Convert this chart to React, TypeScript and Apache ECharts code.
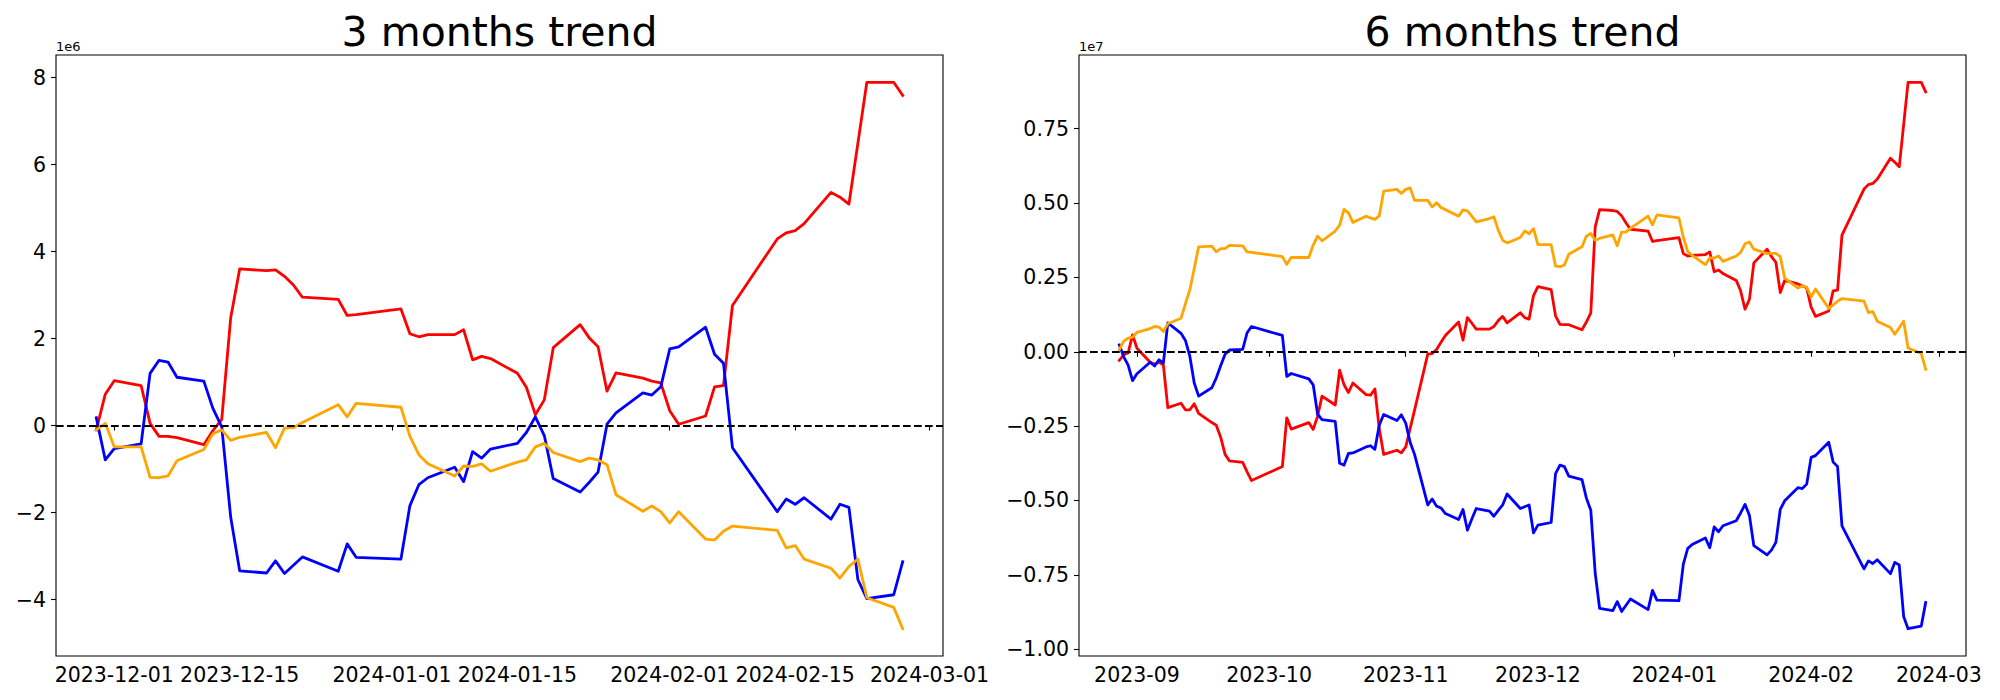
import React, { useEffect, useRef } from "react";
import * as echarts from "echarts";

// KRX trading days, 6-month window
const dates6m = [
  "2023-08-28", "2023-08-29", "2023-08-30", "2023-08-31", "2023-09-01",
  "2023-09-04", "2023-09-05", "2023-09-06", "2023-09-07", "2023-09-08",
  "2023-09-11", "2023-09-12", "2023-09-13", "2023-09-14", "2023-09-15",
  "2023-09-18", "2023-09-19", "2023-09-20", "2023-09-21", "2023-09-22",
  "2023-09-25", "2023-09-26", "2023-09-27",
  "2023-10-04", "2023-10-05", "2023-10-06",
  "2023-10-10", "2023-10-11", "2023-10-12", "2023-10-13",
  "2023-10-16", "2023-10-17", "2023-10-18", "2023-10-19", "2023-10-20",
  "2023-10-23", "2023-10-24", "2023-10-25", "2023-10-26", "2023-10-27",
  "2023-10-30", "2023-10-31", "2023-11-01", "2023-11-02", "2023-11-03",
  "2023-11-06", "2023-11-07", "2023-11-08", "2023-11-09", "2023-11-10",
  "2023-11-13", "2023-11-14", "2023-11-15", "2023-11-16", "2023-11-17",
  "2023-11-20", "2023-11-21", "2023-11-22", "2023-11-23", "2023-11-24",
  "2023-11-27", "2023-11-28", "2023-11-29", "2023-11-30", "2023-12-01",
  "2023-12-04", "2023-12-05", "2023-12-06", "2023-12-07", "2023-12-08",
  "2023-12-11", "2023-12-12", "2023-12-13", "2023-12-14", "2023-12-15",
  "2023-12-18", "2023-12-19", "2023-12-20", "2023-12-21", "2023-12-22",
  "2023-12-26", "2023-12-27", "2023-12-28",
  "2024-01-02", "2024-01-03", "2024-01-04", "2024-01-05",
  "2024-01-08", "2024-01-09", "2024-01-10", "2024-01-11", "2024-01-12",
  "2024-01-15", "2024-01-16", "2024-01-17", "2024-01-18", "2024-01-19",
  "2024-01-22", "2024-01-23", "2024-01-24", "2024-01-25", "2024-01-26",
  "2024-01-29", "2024-01-30", "2024-01-31", "2024-02-01", "2024-02-02",
  "2024-02-05", "2024-02-06", "2024-02-07", "2024-02-08",
  "2024-02-13", "2024-02-14", "2024-02-15", "2024-02-16",
  "2024-02-19", "2024-02-20", "2024-02-21", "2024-02-22", "2024-02-23",
  "2024-02-26", "2024-02-27",
];
const start3m = "2023-11-29";
const dates3m = dates6m.slice(dates6m.indexOf(start3m));

// values in millions
const red3m = [
  -0.10, 0.72, 1.03,
  0.92, 0.05, -0.25, -0.25, -0.28,
  -0.44, -0.12, 0.14, 2.48, 3.60,
  3.56, 3.58, 3.43, 3.23, 2.95,
  2.90, 2.53, 2.55,
  2.68, 2.11, 2.04, 2.09,
  2.09, 2.20, 1.51, 1.59, 1.54,
  1.20, 0.88, 0.25, 0.59, 1.79,
  2.32, 2.02, 1.81, 0.79, 1.21,
  1.09, 1.02, 0.98, 0.34, 0.03,
  0.22, 0.89, 0.92, 2.76,
  4.29, 4.43, 4.48, 4.64,
  5.36, 5.25, 5.09, 6.49, 7.89,
  7.89, 7.59,
];
const blue3m = [
  0.18, -0.79, -0.53,
  -0.42, 1.20, 1.50, 1.46, 1.11,
  1.02, 0.40, -0.03, -2.11, -3.34,
  -3.39, -3.11, -3.40, -3.21, -3.02,
  -3.35, -2.72, -3.03,
  -3.07, -1.84, -1.36, -1.20,
  -0.96, -1.29, -0.60, -0.75, -0.54,
  -0.41, -0.16, 0.20, -0.23, -1.22,
  -1.53, -1.31, -1.07, 0.03, 0.29,
  0.75, 0.70, 0.89, 1.76, 1.81,
  2.26, 1.64, 1.43, -0.51,
  -1.98, -1.69, -1.81, -1.66,
  -2.15, -1.81, -1.88, -3.54, -3.98,
  -3.89, -3.13,
];
const orange3m = [
  -0.10, 0.05, -0.49,
  -0.49, -1.19, -1.20, -1.16, -0.81,
  -0.55, -0.19, -0.10, -0.34, -0.27,
  -0.16, -0.51, -0.06, -0.05, 0.07,
  0.48, 0.20, 0.51,
  0.42, -0.25, -0.67, -0.88,
  -1.16, -0.93, -0.94, -0.88, -1.05,
  -0.84, -0.79, -0.49, -0.41, -0.62,
  -0.83, -0.75, -0.79, -0.90, -1.59,
  -1.97, -1.85, -1.98, -2.24, -1.98,
  -2.61, -2.63, -2.43, -2.31,
  -2.41, -2.81, -2.76, -3.07,
  -3.28, -3.51, -3.24, -3.07, -3.96,
  -4.18, -4.67,
];

const red6m = [
  -0.29, -0.10, -0.04, 0.57, 0.12,
  -0.35, -0.42, -0.35, -0.45, -1.88,
  -1.73, -1.95, -1.95, -1.75, -2.07,
  -2.38, -2.47, -2.87, -3.45, -3.67,
  -3.72, -4.04, -4.33,
  -3.86, -2.22, -2.60,
  -2.38, -2.61, -2.17, -1.49,
  -1.79, -0.62, -1.11, -1.37, -1.05,
  -1.44, -1.46, -1.25, -2.60, -3.45,
  -3.31, -3.40, -3.20, -2.58, -1.96,
  -0.08, -0.06, 0.08, 0.32, 0.55,
  1.00, 0.39, 1.15, 0.96, 0.76,
  0.76, 0.85, 1.05, 1.19, 0.97,
  1.31, 1.15, 1.10, 1.89, 2.19,
  2.09, 1.21, 0.92, 0.91, 0.91,
  0.74, 1.00, 1.31, 4.20, 4.78,
  4.75, 4.72, 4.57, 4.33, 4.12,
  4.06, 3.71, 3.74,
  3.84, 3.30, 3.22, 3.24,
  3.27, 3.36, 2.69, 2.75, 2.63,
  2.40, 2.05, 1.43, 1.76, 2.99,
  3.45, 3.20, 3.01, 1.99, 2.40,
  2.28, 2.22, 2.15, 1.50, 1.19,
  1.37, 2.05, 2.07, 3.92,
  5.47, 5.62, 5.66, 5.80,
  6.51, 6.37, 6.22, 7.64, 9.06,
  9.06, 8.74,
];
const blue6m = [
  0.23, -0.17, -0.45, -0.97, -0.74,
  -0.35, -0.48, -0.27, -0.38, 0.97,
  0.62, 0.38, -0.15, -1.05, -1.49,
  -1.21, -0.88, -0.47, -0.08, 0.06,
  0.08, 0.64, 0.85,
  0.55, -0.83, -0.73,
  -0.91, -1.11, -2.10, -2.28,
  -2.34, -3.75, -3.81, -3.42, -3.40,
  -3.20, -3.16, -3.28, -2.46, -2.11,
  -2.31, -2.12, -2.40, -3.04, -3.45,
  -5.15, -4.95, -5.19, -5.25, -5.44,
  -5.64, -5.30, -6.00, -5.62, -5.27,
  -5.36, -5.53, -5.33, -5.15, -4.78,
  -5.27, -5.21, -5.15, -6.09, -5.83,
  -5.74, -4.10, -3.81, -3.86, -4.18,
  -4.30, -4.92, -5.33, -7.44, -8.63,
  -8.70, -8.40, -8.73, -8.52, -8.31,
  -8.67, -8.02, -8.35,
  -8.37, -7.14, -6.61, -6.48,
  -6.26, -6.59, -5.89, -6.05, -5.85,
  -5.68, -5.42, -5.13, -5.50, -6.52,
  -6.83, -6.67, -6.41, -5.30, -5.01,
  -4.57, -4.60, -4.45, -3.55, -3.49,
  -3.04, -3.71, -3.86, -5.85,
  -7.30, -7.03, -7.12, -6.99,
  -7.46, -7.08, -7.17, -8.90, -9.31,
  -9.22, -8.43,
];
const orange6m = [
  0.07, 0.35, 0.46, 0.49, 0.65,
  0.78, 0.85, 0.83, 0.68, 0.94,
  1.13, 1.61, 2.08, 2.80, 3.53,
  3.55, 3.36, 3.47, 3.47, 3.58,
  3.56, 3.36, 3.34,
  3.20, 2.94, 3.17,
  3.17, 3.59, 3.89, 3.73,
  4.06, 4.26, 4.79, 4.67, 4.35,
  4.56, 4.50, 4.45, 4.57, 5.40,
  5.46, 5.32, 5.46, 5.51, 5.09,
  5.09, 4.87, 5.01, 4.85, 4.78,
  4.56, 4.77, 4.74, 4.56, 4.37,
  4.48, 4.54, 4.09, 3.75, 3.66,
  3.84, 4.06, 3.97, 4.14, 3.60,
  3.60, 2.88, 2.86, 2.92, 3.28,
  3.53, 3.89, 3.98, 3.75, 3.81,
  3.93, 3.56, 4.02, 4.03, 4.15,
  4.56, 4.27, 4.60,
  4.50, 3.85, 3.37, 3.24,
  2.93, 3.16, 3.15, 3.22, 3.04,
  3.22, 3.34, 3.63, 3.69, 3.45,
  3.30, 3.31, 3.31, 3.20, 2.48,
  2.14, 2.22, 2.17, 1.84, 2.11,
  1.46, 1.58, 1.70, 1.79,
  1.70, 1.32, 1.35, 1.03,
  0.82, 0.59, 0.81, 1.03, 0.13,
  -0.06, -0.59,
];

const xTicks3m = ["2023-12-01", "2023-12-15", "2024-01-01", "2024-01-15", "2024-02-01", "2024-02-15", "2024-03-01"];
const xTickLabels3m = ["2023-12-01", "2023-12-15", "2024-01-01", "2024-01-15", "2024-02-01", "2024-02-15", "2024-03-01"];
const xTicks6m = ["2023-09-01", "2023-10-01", "2023-11-01", "2023-12-01", "2024-01-01", "2024-02-01", "2024-03-01"];
const xTickLabels6m = ["2023-09", "2023-10", "2023-11", "2023-12", "2024-01", "2024-02", "2024-03"];
const yTicks3m = [-4, -2, 0, 2, 4, 6, 8];
const yTickLabels3m = ["\u22124", "\u22122", "0", "2", "4", "6", "8"];
const yTicks6m = [-10, -7.5, -5, -2.5, 0, 2.5, 5, 7.5];
const yTickLabels6m = ["\u22121.00", "\u22120.75", "\u22120.50", "\u22120.25", "0.00", "0.25", "0.50", "0.75"];

const titles = ["3 months trend", "6 months trend"];
const offsetTexts = ["1e6", "1e7"];

const FONT = "DejaVu Sans";

function toTs(s: string): number {
  const [y, m, d] = s.split("-").map(Number);
  return new Date(y, m - 1, d).getTime();
}

function pad(lo: number, hi: number): [number, number] {
  const p = (hi - lo) * 0.05;
  return [lo - p, hi + p];
}

export default function App() {
  const ref = useRef<HTMLDivElement>(null);

  useEffect(() => {
    if (!ref.current) return;
    const chart = echarts.init(ref.current, undefined, { renderer: "svg" });

    const grids = [
      { left: 56, top: 55, width: 887, height: 601 },
      { left: 1079, top: 55, width: 887, height: 601 },
    ];

    const panels = [
      { dates: dates3m, red: red3m, blue: blue3m, orange: orange3m, xt: xTicks3m, xl: xTickLabels3m, yt: yTicks3m, yl: yTickLabels3m },
      { dates: dates6m, red: red6m, blue: blue6m, orange: orange6m, xt: xTicks6m, xl: xTickLabels6m, yt: yTicks6m, yl: yTickLabels6m },
    ];

    const xAxis: any[] = [];
    const yAxis: any[] = [];
    const series: any[] = [];
    const graphic: any[] = [];

    panels.forEach((p, i) => {
      const ts = p.dates.map(toTs);
      const [xmin, xmax] = pad(ts[0], ts[ts.length - 1]);
      const all = [...p.red, ...p.blue, ...p.orange];
      const [ymin, ymax] = pad(Math.min(...all), Math.max(...all));
      const xTickTs = p.xt.map(toTs);

      xAxis.push({
        type: "value",
        gridIndex: i,
        min: xmin,
        max: xmax,
        axisLine: { show: false },
        splitLine: { show: false },
        axisTick: {
          show: true,
          customValues: xTickTs,
          length: 5,
          lineStyle: { color: "#000", width: 1.1 },
        },
        axisLabel: {
          customValues: xTickTs,
          formatter: (v: number) => {
            const k = xTickTs.findIndex((t) => Math.abs(t - v) < 60000);
            return k >= 0 ? p.xl[k] : "";
          },
          color: "#000",
          fontSize: 20.5,
          fontFamily: FONT,
          margin: 8,
          hideOverlap: false,
        },
      });

      yAxis.push({
        type: "value",
        gridIndex: i,
        min: ymin,
        max: ymax,
        axisLine: { show: false },
        splitLine: { show: false },
        axisTick: {
          show: true,
          customValues: p.yt,
          length: 5,
          lineStyle: { color: "#000", width: 1.1 },
        },
        axisLabel: {
          customValues: p.yt,
          formatter: (v: number) => {
            const k = p.yt.findIndex((t) => Math.abs(t - v) < 1e-6);
            return k >= 0 ? p.yl[k] : "";
          },
          color: "#000",
          fontSize: 20.5,
          fontFamily: FONT,
          margin: 10,
        },
      });

      const mk = (vals: number[], color: string, z: number, extra?: any) => ({
        type: "line",
        xAxisIndex: i,
        yAxisIndex: i,
        data: vals.map((v, j) => [ts[j], v]),
        showSymbol: false,
        symbol: "none",
        z,
        lineStyle: { color, width: 2.8, join: "round", cap: "square" },
        itemStyle: { color },
        ...extra,
      });

      series.push(mk(p.red, "#ff0000", 2));
      series.push(mk(p.blue, "#0000ff", 3));
      series.push(
        mk(p.orange, "#ffa500", 4, {
          markLine: {
            silent: true,
            symbol: "none",
            animation: false,
            label: { show: false },
            lineStyle: { color: "#000", type: [7.7, 3.3], width: 2.1 },
            data: [{ yAxis: 0 }],
            z: 10,
          },
        })
      );

      const g = grids[i];
      graphic.push({
        type: "text",
        x: g.left + g.width / 2,
        y: 32,
        style: {
          text: titles[i],
          fontSize: 41,
          fontFamily: FONT,
          fill: "#000",
          textAlign: "center",
          textVerticalAlign: "middle",
        },
      });
      graphic.push({
        type: "text",
        x: g.left,
        y: 46.5,
        style: {
          text: offsetTexts[i],
          fontSize: 13,
          fontFamily: FONT,
          fill: "#000",
          textAlign: "left",
          textVerticalAlign: "middle",
        },
      });
    });

    chart.setOption({
      animation: false,
      backgroundColor: "#ffffff",
      textStyle: { fontFamily: FONT },
      grid: grids.map((g) => ({
        ...g,
        show: true,
        borderColor: "#000",
        borderWidth: 1.1,
        backgroundColor: "transparent",
        containLabel: false,
      })),
      xAxis,
      yAxis,
      series,
      graphic,
    });

    return () => chart.dispose();
  }, []);

  return (
    <div
      ref={ref}
      style={{ position: "absolute", left: 0, top: 0, width: 2000, height: 700, background: "#fff" }}
    />
  );
}
